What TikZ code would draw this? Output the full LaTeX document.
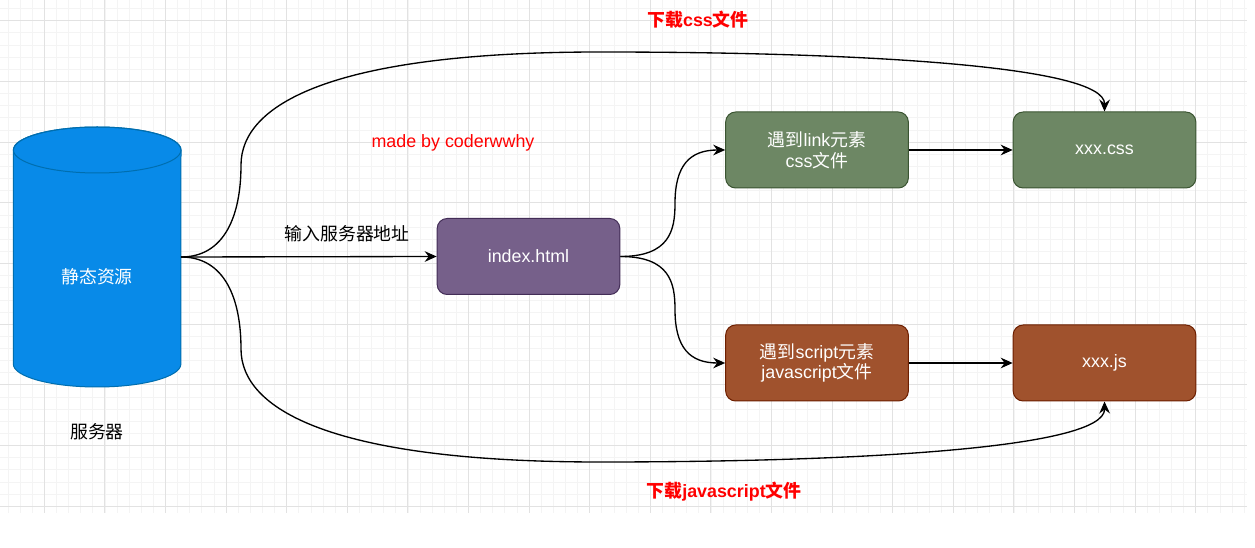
\documentclass[tikz,border=0pt]{standalone}
\usepackage{fontspec}
\setmainfont{Liberation Sans}
\newfontfamily\cjk{Noto Sans CJK SC}
\usetikzlibrary{arrows.meta}
\definecolor{drum}{RGB}{8,138,232}
\definecolor{drumline}{RGB}{0,110,175}
\definecolor{grape}{HTML}{76608A}
\definecolor{grapeline}{HTML}{432D57}
\definecolor{moss}{HTML}{6D8764}
\definecolor{mossline}{HTML}{3A5431}
\definecolor{rust}{HTML}{A0522D}
\definecolor{rustline}{HTML}{6D1F00}
\definecolor{majorgrid}{RGB}{226,226,226}
\definecolor{minorgrid}{RGB}{244,244,244}

\begin{document}
\begin{tikzpicture}[x=0.75pt, y=-0.75pt,
		every node/.style={font=\fontsize{13.4}{15.5}\selectfont},
		filebox/.style={rounded corners=7.5pt, minimum width=137pt, minimum height=57pt, align=center, text=white, line width=0.75pt},
		flow/.style={line width=1pt, -{Stealth[length=9pt, width=8pt, inset=3pt]}},
		note/.style={text=red, font=\fontsize{13.4}{15.5}\selectfont\bfseries},
		minorline/.style={draw=minorgrid, line width=0.6pt},
		majorline/.style={draw=majorgrid, line width=0.8pt}]
	\useasboundingbox[fill=white] (0,0) rectangle (1255,548);%
	%
	\foreach \k in {0,...,102} \draw[minorline] ({7.94+12.12*\k},0) -- ({7.94+12.12*\k},513);%
	\foreach \k in {0,...,41} \draw[minorline] (0,{8.56+12.14*\k}) -- (1247,{8.56+12.14*\k});%
	\foreach \k in {0,...,19} \draw[majorline] ({44.3+60.6*\k},0) -- ({44.3+60.6*\k},513);%
	\foreach \k in {0,...,8} \draw[majorline] (0,{20.7+60.7*\k}) -- (1247,{20.7+60.7*\k});%
	%
	\filldraw[fill=drum, draw=drumline, line width=0.75pt] (13.3,150) -- (13.3,364)
		arc[start angle=180, end angle=0, x radius=83.8, y radius=23] -- (181,150)
		arc[start angle=0, end angle=-180, x radius=83.8, y radius=23] -- cycle;%
	\draw[drumline, line width=0.75pt] (97.2,150) ellipse[x radius=83.8, y radius=23];%
	\node[text=white] (store) at (97,277) {\cjk 静态资源};%
	\node (server) at (97,432) {\cjk 服务器};%
	\coordinate (storeout) at (181,257);%
	%
	\node[filebox, fill=grape, draw=grapeline] (index) at (528.5,256.5) {index.html};%
	\node[filebox, fill=moss, draw=mossline] (link) at (817,150) {{\cjk 遇到}link{\cjk 元素}\\css{\cjk 文件}};%
	\node[filebox, fill=moss, draw=mossline] (css) at (1104.5,150) {xxx.css};%
	\node[filebox, fill=rust, draw=rustline] (script) at (817,363) {{\cjk 遇到}script{\cjk 元素}\\javascript{\cjk 文件}};%
	\node[filebox, fill=rust, draw=rustline] (js) at (1104.5,363) {xxx.js};%
	%
	\node[note] (getcss) at (698,20) {{\cjk 下载}css{\cjk 文件}};%
	\node[note] (getjs) at (724,492) {{\cjk 下载}javascript{\cjk 文件}};%
	\node[text=red] (credit) at (453,143) {made by coderwwhy};%
	%
	\draw[flow] (storeout) -- (index.west) node[pos=0.65, above=7pt] (addr) {\cjk 输入服务器地址};%
	\draw[flow] (storeout) .. controls (225,257) and (241,215) .. (241,165)
		.. controls (241,105) and (330,52) .. (600,52)
		.. controls (850,52) and (1105,65) .. (css.north);%
	\draw[flow] (storeout) .. controls (225,257) and (241,299) .. (241,349)
		.. controls (241,409) and (330,462) .. (600,462)
		.. controls (850,462) and (1105,449) .. (js.south);%
	\draw[flow] (index.east) .. controls (670,256.5) and (675,230) .. (675,203.5)
		.. controls (675,165) and (690,150) .. (link.west);%
	\draw[flow] (index.east) .. controls (670,256.5) and (675,283) .. (675,309.5)
		.. controls (675,348) and (690,363) .. (script.west);%
	\draw[flow] (link) -- (css);%
	\draw[flow] (script) -- (js);%
\end{tikzpicture}
\end{document}
